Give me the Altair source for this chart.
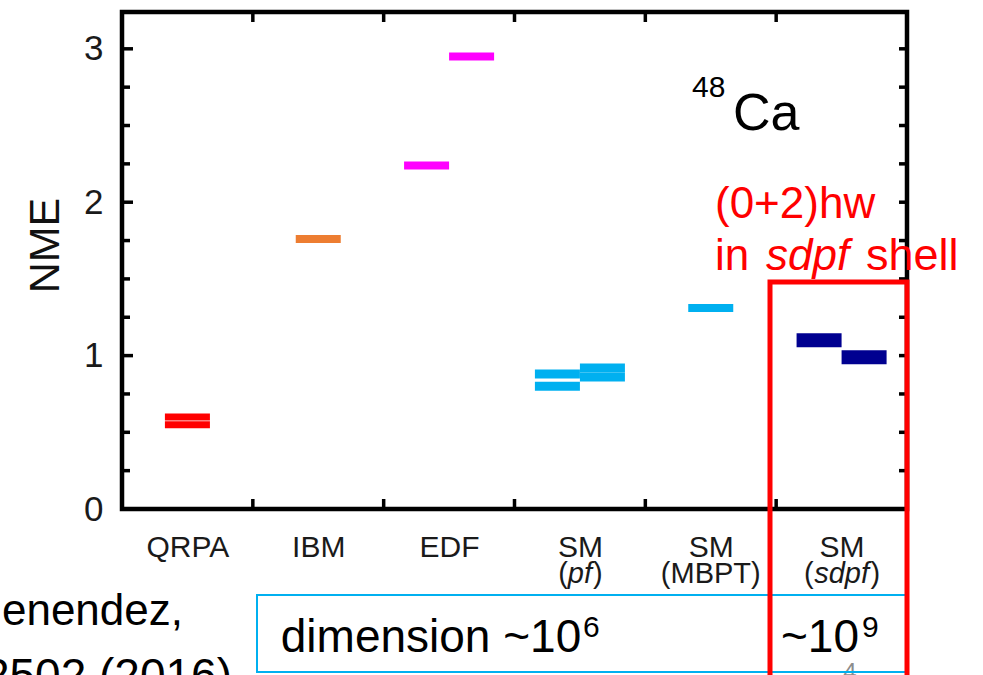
import json
import altair as alt
import pandas as pd

FONT = "Liberation Sans"
W, H = 785, 497

# ---------------- data ----------------
methods = ["QRPA", "IBM", "EDF", "SM (pf)", "SM (MBPT)", "SM (sdpf)"]
line1_labels = ["QRPA", "IBM", "EDF", "SM", "SM", "SM"]
model_colors = ["#FF0000", "#ED7D31", "#FF00FF", "#00B0F0", "#00B0F0", "#000090"]

bar_cat = [0, 0, 1, 2, 2, 3, 3, 3, 3, 4, 5, 5]
bar_slot = [0, 0, 0, -1, 1, -1, -1, 1, 1, 0, -1, 1]
bar_nme = [0.60, 0.55, 1.76, 2.24, 2.95, 0.88, 0.80, 0.92, 0.86, 1.31, 1.10, 0.99]

y_major = [0, 1, 2, 3]
y_minor = [0.25, 0.5, 0.75, 1.25, 1.5, 1.75, 2.25, 2.5, 2.75]
boundaries = [1, 2, 3, 4, 5]

HALF = 0.172
bars_df = pd.DataFrame({
    "model": [methods[c] for c in bar_cat],
    "nme": bar_nme,
    "x0": [c + 0.5 + s * HALF - HALF for c, s in zip(bar_cat, bar_slot)],
    "x1": [c + 0.5 + s * HALF + HALF for c, s in zip(bar_cat, bar_slot)],
})

xs = alt.Scale(domain=[0, 6], nice=False, zero=False)
ys = alt.Scale(domain=[0, 3.24], nice=False, zero=False)

label_expr = json.dumps(line1_labels) + "[floor(datum.value)]"

x_axis = alt.Axis(values=[0.5, 1.5, 2.5, 3.5, 4.5, 5.5], labelExpr=label_expr,
                  ticks=False, tickSize=0, domain=False, grid=False, title="",
                  labelFontSize=30, labelPadding=23, labelColor="#1a1a1a",
                  labelFont=FONT)
y_axis = alt.Axis(values=y_major, ticks=False, tickSize=0, domain=False, grid=False,
                  title="NME", titleFontSize=43, titleFontWeight="normal",
                  titleColor="#111111", titlePadding=16, titleY=233,
                  labelFontSize=35, labelPadding=19, labelColor="#1a1a1a",
                  labelFont=FONT, titleFont=FONT)


def X(field):
    return alt.X(field, scale=xs, axis=x_axis)


def Y(field):
    return alt.Y(field, scale=ys, axis=y_axis)


stroke_w = alt.StrokeWidthValue(8, condition=[
    {"test": "datum.model === 'SM (sdpf)'", "value": 14},
    {"test": "datum.model === 'QRPA'", "value": 7},
    {"test": "datum.model === 'SM (pf)'", "value": 9},
])

bars = alt.Chart(bars_df).mark_rule().encode(
    x=X("x0:Q"),
    x2="x1:Q",
    y=Y("nme:Q"),
    color=alt.Color("model:N", scale=alt.Scale(domain=methods, range=model_colors), legend=None),
    strokeWidth=stroke_w,
)

maj_df = pd.DataFrame({"t": y_major})
min_df = pd.DataFrame({"t": y_minor})
all_df = pd.DataFrame({"t": y_major + y_minor})
bnd_df = pd.DataFrame({"b": boundaries})

tick_style = dict(color="black", strokeWidth=3.5)
left_major = alt.Chart(maj_df).mark_rule(**tick_style).encode(
    y=Y("t:Q"), x=alt.value(0), x2=alt.value(11))
left_minor = alt.Chart(min_df).mark_rule(**tick_style).encode(
    y=Y("t:Q"), x=alt.value(0), x2=alt.value(8))
right_ticks = alt.Chart(all_df).mark_rule(**tick_style).encode(
    y=Y("t:Q"), x=alt.value(W - 8), x2=alt.value(W))
top_ticks = alt.Chart(bnd_df).mark_rule(**tick_style).encode(
    x=X("b:Q"), y=alt.value(0), y2=alt.value(10))
bottom_ticks = alt.Chart(bnd_df).mark_rule(**tick_style).encode(
    x=X("b:Q"), y=alt.value(H - 10), y2=alt.value(H))

ONE = alt.Data(values=[{"k": 1}])


def txt(text, x, y, size, color="black", align="left", style="normal"):
    return alt.Chart(ONE).mark_text(
        text=text, fontSize=size, color=color, align=align, fontStyle=style,
        baseline="alphabetic", font=FONT,
    ).encode(x=alt.value(x), y=alt.value(y))


def sub(text, cat, dx, align="center", style="normal"):
    return alt.Chart(pd.DataFrame({"c": [cat + 0.5]})).mark_text(
        text=text, fontSize=29, color="#1a1a1a", align=align, fontStyle=style,
        baseline="alphabetic", font=FONT, dx=dx,
    ).encode(x=X("c:Q"), y=alt.value(571))


sublabels = [
    sub("(", 3, -12, "right"), sub("pf", 3, 0, "center", "italic"), sub(")", 3, 13, "left"),
    sub("(MBPT)", 4, 0),
    sub("(", 5, -28, "right"), sub("sdpf", 5, 0, "center", "italic"), sub(")", 5, 29, "left"),
]

texts = [
    txt("48", 570, 85, 30),
    txt("Ca", 611, 118, 52),
    txt("(0+2)hw", 593, 206, 44, "#FF0000"),
    txt("in", 593, 258, 44, "#FF0000"),
    txt("sdpf", 644, 258, 44, "#FF0000", style="italic"),
    txt("shell", 744, 258, 45, "#FF0000"),
    txt("dimension ~10", 309, 640, 46, align="center"),
    txt("6", 461, 625, 30),
    txt("~10", 698, 640, 46, align="center"),
    txt("9", 740, 625, 30),
    txt("Menendez,", 61, 613, 44, align="right"),
    txt("112502 (2016)", 110, 679, 46, align="right"),
    txt("4", 728, 668, 24, color="#8c8c8c", align="center"),
]

blue_box = alt.Chart(ONE).mark_rect(fillOpacity=0, stroke="#00B0F0", strokeWidth=2).encode(
    x=alt.value(135), x2=alt.value(784), y=alt.value(583), y2=alt.value(660))
red_box = alt.Chart(ONE).mark_rect(fillOpacity=0, stroke="#FF0000", strokeWidth=5).encode(
    x=alt.value(648), x2=alt.value(785), y=alt.value(270), y2=alt.value(720))

chart = alt.layer(
    bars, left_major, left_minor, right_ticks, top_ticks, bottom_ticks,
    *sublabels, *texts, blue_box, red_box,
).properties(
    width=W, height=H,
    padding={"left": 122, "top": 12, "right": 76, "bottom": 166},
    autosize=alt.AutoSizeParams(type="none"),
).configure(font=FONT, background="white").configure_view(
    stroke="black", strokeWidth=4.5
)

chart.save("out.html", embed_options={"renderer": "svg", "actions": False})
